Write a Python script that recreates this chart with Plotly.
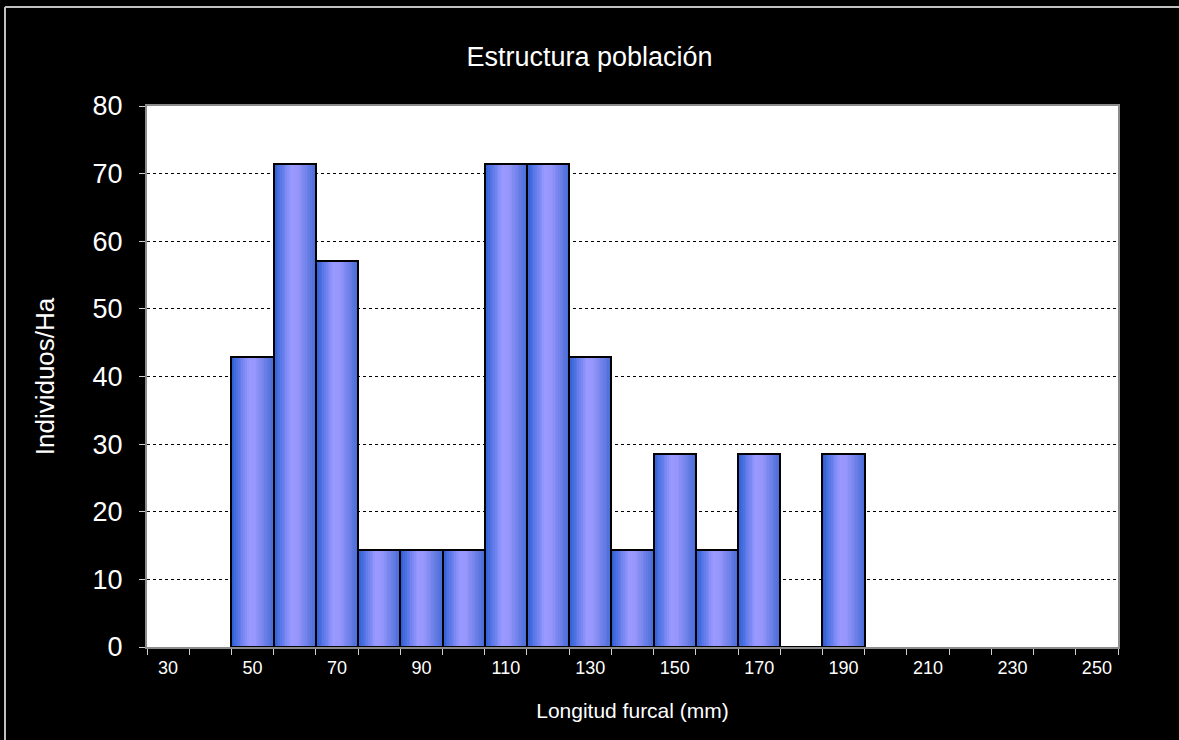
import plotly.graph_objects as go

# Data
length_classes = [50, 60, 70, 80, 90, 100, 110, 120, 130, 140, 150, 160, 170, 180, 190]
individuals_ha = [42.86, 71.43, 57.14, 14.29, 14.29, 14.29, 71.43, 71.43, 42.86,
                  14.29, 28.57, 14.29, 28.57, 0, 28.57]
x_tick_vals = [30, 50, 70, 90, 110, 130, 150, 170, 190, 210, 230, 250]
y_tick_vals = [0, 10, 20, 30, 40, 50, 60, 70, 80]

BIN = 10.0
N_SLICES = 24

def grad_color(t):
    # left dark blue -> light lavender center -> mid blue right
    stops = [(0.0, (38, 92, 210)), (0.42, (153, 153, 255)), (0.58, (150, 150, 252)),
             (1.0, (72, 108, 214))]
    for (t0, c0), (t1, c1) in zip(stops[:-1], stops[1:]):
        if t <= t1:
            f = (t - t0) / (t1 - t0) if t1 > t0 else 0
            c = [round(a + (b - a) * f) for a, b in zip(c0, c1)]
            return "rgb(%d,%d,%d)" % tuple(c)
    return "rgb(%d,%d,%d)" % stops[-1][1]

fig = go.Figure()
sw = BIN / N_SLICES
for i in range(N_SLICES):
    t = (i + 0.5) / N_SLICES
    fig.add_trace(go.Bar(
        x=length_classes, y=individuals_ha,
        width=sw * 1.08, offset=-BIN / 2 + i * sw,
        marker=dict(color=grad_color(t), line=dict(width=0)),
        showlegend=False, hoverinfo="skip",
    ))
# outline
fig.add_trace(go.Bar(
    x=length_classes, y=individuals_ha, width=BIN, offset=-BIN / 2,
    marker=dict(color="rgba(0,0,0,0)", line=dict(color="black", width=2)),
    showlegend=False,
))

fig.update_layout(
    width=1179, height=740,
    paper_bgcolor="black", plot_bgcolor="white",
    barmode="overlay", bargap=0,
    margin=dict(l=147, r=61, t=106, b=93),
    font=dict(family="Liberation Sans, Arial, sans-serif", color="white"),
    title=dict(text="Estructura población", x=0.5, xanchor="center",
               y=1 - 57 / 740, yanchor="middle",
               font=dict(size=27, color="white")),
    xaxis=dict(
        range=[25, 255], tickmode="array", tickvals=x_tick_vals,
        ticks="", tickfont=dict(size=18, color="white"),
        ticklabelstandoff=3,
        showgrid=False, zeroline=False,
        showline=True, linecolor="#8c8c8c", linewidth=2, mirror=True,
        minor=dict(tickmode="linear", tick0=25, dtick=10, ticks="outside",
                   ticklen=6, tickcolor="#d0d0d0", tickwidth=1, showgrid=False),
        title=dict(text="Longitud furcal (mm)", font=dict(size=21, color="white"),
                   standoff=27),
    ),
    yaxis=dict(
        range=[0, 80], tickmode="array", tickvals=y_tick_vals,
        ticks="outside", ticklen=6, tickcolor="#d0d0d0",
        tickfont=dict(size=27, color="white"),
        ticklabelstandoff=11,
        showgrid=True, gridcolor="black", gridwidth=1, griddash="dot",
        zeroline=False,
        showline=True, linecolor="#8c8c8c", linewidth=2, mirror=True,
        title=dict(text="Individuos/Ha", font=dict(size=26, color="white"),
                   standoff=30),
    ),
)

# outer chart-area frame: left and top edges only
fig.add_shape(type="line", xref="paper", yref="paper",
              x0=-142 / 971, x1=-142 / 971, y0=-0.5, y1=1 + 99 / 541,
              line=dict(color="#c0c0c0", width=2))
fig.add_shape(type="line", xref="paper", yref="paper",
              x0=-142 / 971, x1=1.3, y0=1 + 99 / 541, y1=1 + 99 / 541,
              line=dict(color="#c0c0c0", width=2))

fig.write_html(
    "out.html",
    config={"displayModeBar": False},
    post_script="document.body.style.margin='0';document.body.style.background='black';document.body.style.overflow='hidden';",
)
